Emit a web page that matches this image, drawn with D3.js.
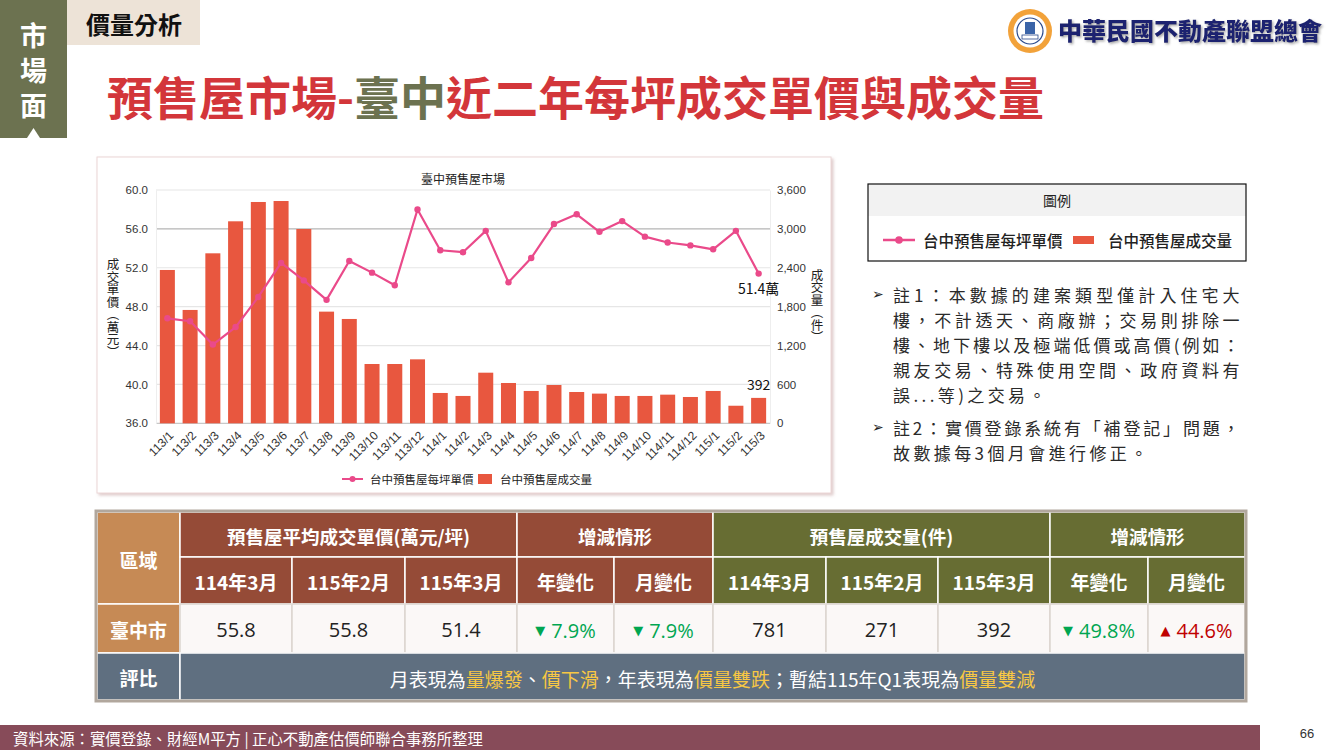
<!DOCTYPE html>
<html>
<head>
<meta charset="utf-8">
<script src="https://cdn.jsdelivr.net/npm/d3@7"></script>
<style>
body{margin:0;background:#fff;}
svg{display:block;font-family:"Noto Sans CJK TC","Noto Sans CJK SC",sans-serif;}
</style>
</head>
<body>
<svg id="slide" width="1330" height="750"></svg>
<script>
// chart data
const months = ["113/1","113/2","113/3","113/4","113/5","113/6","113/7","113/8","113/9","113/10","113/11","113/12",
  "114/1","114/2","114/3","114/4","114/5","114/6","114/7","114/8","114/9","114/10","114/11","114/12",
  "115/1","115/2","115/3"];
const unitPrice = [46.8,46.5,44.1,45.9,49.0,52.5,50.7,48.7,52.7,51.5,50.2,58.0,
  53.8,53.6,55.8,50.5,53.0,56.5,57.5,55.7,56.8,55.2,54.6,54.3,53.9,55.8,51.4];
const volume = [2366,1749,2623,3117,3415,3430,2998,1723,1610,915,915,987,
  468,422,781,622,499,591,483,458,422,422,442,406,499,271,392];
const leftTicks = [36,40,44,48,52,56,60];
const rightTicks = [0,600,1200,1800,2400,3000,3600];
const darkGridAt = 56;
const seriesNames = ["台中預售屋每坪單價","台中預售屋成交量"];
const chartTitle = "臺中預售屋市場";

// table data
const regionName = "臺中市";
const periods = ["114年3月","115年2月","115年3月"];
const changeLabels = ["年變化","月變化"];
const priceValues = ["55.8","55.8","51.4"];
const priceChanges = [["▼","7.9%"],["▼","7.9%"]];
const volumeValues = ["781","271","392"];
const volumeChanges = [["▼","49.8%"],["▲","44.6%"]];
const commentParts = [["月表現為",0],["量爆發",1],["、",0],["價下滑",1],["，年表現為",0],["價量雙跌",1],["；暫結115年Q1表現為",0],["價量雙減",1]];

const notes = [
  ["註1：本數據的建案類型僅計入住宅大", true, true],
  ["樓，不計透天、商廠辦；交易則排除一", false, true],
  ["樓、地下樓以及極端低價或高價(例如：", false, true],
  ["親友交易、特殊使用空間、政府資料有", false, true],
  ["誤...等)之交易。", false, false],
  ["註2：實價登錄系統有「補登記」問題，", true, true],
  ["故數據每3個月會進行修正。", false, false]
];

const RED = "#D3363A", OLIVE = "#6C7250", BAR = "#E8573F", LINE = "#EA4A8A";

const svg = d3.select("#slide");
const defs = svg.append("defs");
const sh = defs.append("filter").attr("id","shadow").attr("x","-5%").attr("y","-5%").attr("width","110%").attr("height","110%");
sh.append("feDropShadow").attr("dx",2).attr("dy",2).attr("stdDeviation",1.5).attr("flood-color","#c9a8a8").attr("flood-opacity",0.6);
const ts = defs.append("filter").attr("id","tshadow");
ts.append("feDropShadow").attr("dx",1.5).attr("dy",1.5).attr("stdDeviation",0.8).attr("flood-color","#888").attr("flood-opacity",0.7);

// ---- slide header
svg.append("rect").attr("x",0).attr("y",0).attr("width",67).attr("height",138).attr("fill",OLIVE);
svg.append("text").attr("x",33.5).attr("y",22).style("writing-mode","vertical-rl")
  .attr("letter-spacing",8).attr("fill","#fff").attr("font-size",27).attr("font-weight",700).text("市場面");
svg.append("path").attr("d","M27,138 L33.5,128 L40,138 Z").attr("fill","#fff");

svg.append("rect").attr("x",67).attr("y",0).attr("width",133).attr("height",45).attr("fill","#EDE3D7");
svg.append("text").attr("x",86).attr("y",23).attr("dominant-baseline","central")
  .attr("font-size",24).attr("font-weight",700).attr("fill","#111").text("價量分析");

const title = svg.append("text").attr("x",107).attr("y",95).attr("dominant-baseline","central")
  .attr("font-size",46).attr("font-weight",700);
title.append("tspan").attr("fill",RED).text("預售屋市場-");
title.append("tspan").attr("fill",OLIVE).text("臺中");
title.append("tspan").attr("fill",RED).text("近二年每坪成交單價與成交量");

// logo
const logo = svg.append("g").attr("transform","translate(1030,31)");
logo.append("circle").attr("r",22).attr("fill","#F2A23A");
logo.append("circle").attr("r",16.5).attr("fill","#fff");
logo.append("circle").attr("r",13).attr("fill","none").attr("stroke","#2B4A8C").attr("stroke-width",1.2);
logo.append("rect").attr("x",-5).attr("y",-9).attr("width",10).attr("height",12).attr("fill","#3A64A8");
logo.append("rect").attr("x",-8).attr("y",4).attr("width",16).attr("height",4).attr("fill","#fff").attr("stroke","#2B4A8C").attr("stroke-width",0.8);
svg.append("text").attr("x",1058).attr("y",29).attr("dominant-baseline","central")
  .attr("font-size",24).attr("font-weight",900).attr("fill","#1C2470").attr("filter","url(#tshadow)")
  .text("中華民國不動產聯盟總會");

// ---- chart
svg.append("rect").attr("x",97).attr("y",157).attr("width",734).attr("height",336)
  .attr("fill","#fff").attr("stroke","#ecd6d6").attr("filter","url(#shadow)");

const plot = {left:156, right:770, top:190, bottom:423.3};
const x = d3.scaleBand().domain(months).range([plot.left,plot.right]).paddingInner(0.34).paddingOuter(0.17);
const yL = d3.scaleLinear().domain([36,60]).range([plot.bottom,plot.top]);
const yR = d3.scaleLinear().domain([0,3600]).range([plot.bottom,plot.top]);
const cx = d => x(d) + x.bandwidth()/2;

svg.append("text").attr("x",(plot.left+plot.right)/2).attr("y",178).attr("text-anchor","middle")
  .attr("dominant-baseline","central").attr("font-size",12).attr("fill","#222").text(chartTitle);

// grid
svg.append("g").selectAll("line").data(leftTicks).enter().append("line")
  .attr("x1",plot.left).attr("x2",plot.right)
  .attr("y1",d=>yL(d)).attr("y2",d=>yL(d))
  .attr("stroke",d=> d===darkGridAt ? "#b5b5b5" : (d===36 ? "#c8c8c8" : "#e6e6e6"))
  .attr("stroke-width",1.2);

const axisFont = "'Liberation Sans Narrow','Liberation Sans',Arial,sans-serif";
const gL = svg.append("g").attr("transform",`translate(${plot.left},0)`)
  .call(d3.axisLeft(yL).tickValues(leftTicks).tickFormat(d3.format(".1f")).tickSize(0).tickPadding(8));
const gR = svg.append("g").attr("transform",`translate(${plot.right},0)`)
  .call(d3.axisRight(yR).tickValues(rightTicks).tickFormat(d3.format(",")).tickSize(0).tickPadding(7));
[gL,gR].forEach(g=>{
  g.select(".domain").attr("stroke","#eeeeee");
  g.selectAll("text").attr("font-family",axisFont).attr("font-size",11.5).attr("fill","#333");
});

const gX = svg.append("g").attr("transform",`translate(0,${plot.bottom})`)
  .call(d3.axisBottom(x).tickSize(0));
gX.select(".domain").remove();
gX.selectAll("text").attr("font-family",axisFont).attr("font-size",12).attr("fill","#333")
  .attr("text-anchor","end").attr("x",0).attr("y",0).attr("dy","0.35em")
  .attr("transform","translate(4,10) rotate(-45)");

// axis titles
svg.append("text").attr("x",113).attr("y",308).attr("text-anchor","middle")
  .style("writing-mode","vertical-rl").attr("font-size",12.5).attr("fill","#222").text("成交單價（萬元）");
svg.append("text").attr("x",817).attr("y",306).attr("text-anchor","middle")
  .style("writing-mode","vertical-rl").attr("font-size",12.5).attr("fill","#222").text("成交量（件）");

// bars
svg.append("g").selectAll("rect").data(volume).enter().append("rect")
  .attr("x",(d,i)=>x(months[i])).attr("width",x.bandwidth())
  .attr("y",d=>yR(d)).attr("height",d=>plot.bottom-yR(d))
  .attr("fill",BAR);

// line
const line = d3.line().x((d,i)=>cx(months[i])).y(d=>yL(d));
svg.append("path").datum(unitPrice).attr("d",line).attr("fill","none")
  .attr("stroke",LINE).attr("stroke-width",2.2).attr("stroke-linejoin","round");
svg.append("g").selectAll("circle").data(unitPrice).enter().append("circle")
  .attr("cx",(d,i)=>cx(months[i])).attr("cy",d=>yL(d)).attr("r",3.2).attr("fill",LINE);

// data labels for the last month
const last = months.length-1;
svg.append("text").attr("x",cx(months[last])).attr("y",yL(unitPrice[last])+14)
  .attr("text-anchor","middle").attr("dominant-baseline","central")
  .attr("font-size",14).attr("fill","#111").text(unitPrice[last].toFixed(1)+"萬");
svg.append("text").attr("x",cx(months[last])).attr("y",yR(volume[last])-14)
  .attr("text-anchor","middle").attr("dominant-baseline","central")
  .attr("font-size",14).attr("fill","#111").text(volume[last]);

// chart legend
const lg = svg.append("g").attr("transform","translate(0,479)");
lg.append("line").attr("x1",342).attr("x2",363).attr("stroke",LINE).attr("stroke-width",2);
lg.append("circle").attr("cx",352.5).attr("r",3).attr("fill",LINE);
lg.append("text").attr("x",370).attr("dominant-baseline","central").attr("font-size",11.5).attr("fill","#222").text(seriesNames[0]);
lg.append("rect").attr("x",478).attr("y",-5).attr("width",14).attr("height",10).attr("fill",BAR);
lg.append("text").attr("x",500).attr("dominant-baseline","central").attr("font-size",11.5).attr("fill","#222").text(seriesNames[1]);

// ---- legend box on the right
svg.append("rect").attr("x",868).attr("y",184).attr("width",378).attr("height",32).attr("fill","#F2F2F2");
svg.append("rect").attr("x",868).attr("y",184).attr("width",378).attr("height",77).attr("fill","none").attr("stroke","#111").attr("stroke-width",1.2);
svg.append("text").attr("x",1057).attr("y",200).attr("text-anchor","middle").attr("dominant-baseline","central")
  .attr("font-size",14).attr("fill","#222").text("圖例");
const lb = svg.append("g").attr("transform","translate(0,240)");
lb.append("line").attr("x1",883).attr("x2",915).attr("stroke",LINE).attr("stroke-width",2.5);
lb.append("circle").attr("cx",899).attr("r",3.8).attr("fill",LINE);
lb.append("text").attr("x",923).attr("dominant-baseline","central").attr("font-size",15.5).attr("font-weight",500).attr("fill","#222").text(seriesNames[0]);
lb.append("rect").attr("x",1073).attr("y",-4).attr("width",21).attr("height",8).attr("fill",BAR);
lb.append("text").attr("x",1108).attr("dominant-baseline","central").attr("font-size",15.5).attr("font-weight",500).attr("fill","#222").text(seriesNames[1]);

// notes
const noteY = [294,319,344,369,394,427,452];
notes.forEach((n,i)=>{
  if(n[1]) svg.append("text").attr("x",872).attr("y",noteY[i]).attr("dominant-baseline","central")
    .attr("font-family","'DejaVu Sans',sans-serif").attr("font-size",14).attr("fill","#222").text("➢");
  const t = svg.append("text").attr("x",893).attr("y",noteY[i]).attr("dominant-baseline","central")
    .attr("font-size",17).attr("letter-spacing",3.4).attr("fill","#2a2a2a").text(n[0]);
  if(n[2]) t.attr("textLength",350).attr("lengthAdjust","spacing");
});

// ---- table
const colX = [97,180,292,405,517,614,713,826,938,1050,1148,1245];
const rowY = [512,557,604,653,700];
const BROWN = "#954B37", GREEN_H = "#676D33", TAN = "#C68A55", SLATE = "#5F6F80";
const tb = svg.append("g");
function cell(c0,c1,r0,r1,fill,stroke){
  tb.append("rect").attr("x",colX[c0]).attr("y",rowY[r0]).attr("width",colX[c1]-colX[c0]).attr("height",rowY[r1]-rowY[r0])
    .attr("fill",fill).attr("stroke",stroke).attr("stroke-width",1.5);
}
function label(c0,c1,r0,r1,txt,opt){
  opt = opt||{};
  return tb.append("text").attr("x",(colX[c0]+colX[c1])/2).attr("y",(rowY[r0]+rowY[r1])/2+1)
    .attr("text-anchor","middle").attr("dominant-baseline","central")
    .attr("font-size",opt.size||19).attr("font-weight",opt.weight||700)
    .attr("fill",opt.fill||"#fff").attr("font-family",opt.family||null).text(txt);
}
cell(0,1,0,2,TAN,"#fff"); label(0,1,0,2,"區域");
cell(0,1,2,3,TAN,"#fff"); label(0,1,2,3,regionName);
cell(0,1,3,4,SLATE,"#fff"); label(0,1,3,4,"評比");

const groups = [
  {c0:1,c1:4,fill:BROWN,title:"預售屋平均成交單價(萬元/坪)",vals:priceValues,chg:priceChanges},
  {c0:6,c1:9,fill:GREEN_H,title:"預售屋成交量(件)",vals:volumeValues,chg:volumeChanges}
];
groups.forEach(g=>{
  cell(g.c0,g.c1,0,1,g.fill,"#fff"); label(g.c0,g.c1,0,1,g.title,{size:18.5});
  cell(g.c1,g.c1+2,0,1,g.fill,"#fff"); label(g.c1,g.c1+2,0,1,"增減情形",{size:18.5});
  periods.forEach((p,i)=>{
    cell(g.c0+i,g.c0+i+1,1,2,g.fill,"#fff"); label(g.c0+i,g.c0+i+1,1,2,p);
    cell(g.c0+i,g.c0+i+1,2,3,"#FBF8F7","#DCD5D0");
    label(g.c0+i,g.c0+i+1,2,3,g.vals[i],{weight:400,size:20,fill:"#222",family:"'Open Sans','Noto Sans',sans-serif"});
  });
  changeLabels.forEach((c,i)=>{
    const k = g.c1+i;
    cell(k,k+1,1,2,g.fill,"#fff"); label(k,k+1,1,2,c);
    cell(k,k+1,2,3,"#FBF8F7","#DCD5D0");
    const up = g.chg[i][0]==="▲";
    const t = label(k,k+1,2,3,"",{weight:400,size:20,fill:up?"#C00000":"#00A651",family:"'Open Sans','Noto Sans',sans-serif"});
    t.append("tspan").attr("font-size",13).attr("font-family","'DejaVu Sans',sans-serif").text(g.chg[i][0]);
    t.append("tspan").attr("dx",6).text(g.chg[i][1]);
  });
});
cell(1,11,3,4,SLATE,"#fff");
const cm = tb.append("text").attr("x",(colX[1]+colX[11])/2).attr("y",(rowY[3]+rowY[4])/2+1)
  .attr("text-anchor","middle").attr("dominant-baseline","central").attr("font-size",19).attr("font-weight",400);
commentParts.forEach(p=>{
  cm.append("tspan").attr("fill",p[1] ? "#F7C744" : "#fff").text(p[0]);
});
tb.append("rect").attr("x",96).attr("y",511).attr("width",1150).attr("height",190)
  .attr("fill","none").attr("stroke","#B1A79D").attr("stroke-width",3);

// ---- footer
svg.append("rect").attr("x",0).attr("y",725).attr("width",1260).attr("height",25).attr("fill","#874B59");
svg.append("text").attr("x",13).attr("y",738).attr("dominant-baseline","central")
  .attr("font-size",15.4).attr("fill","#fff").text("資料來源：實價登錄、財經M平方 | 正心不動產估價師聯合事務所整理");
svg.append("text").attr("x",1307).attr("y",733).attr("text-anchor","middle").attr("dominant-baseline","central")
  .attr("font-family","'Liberation Sans',Arial,sans-serif").attr("font-size",13).attr("fill","#333").text("66");
</script>
</body>
</html>
